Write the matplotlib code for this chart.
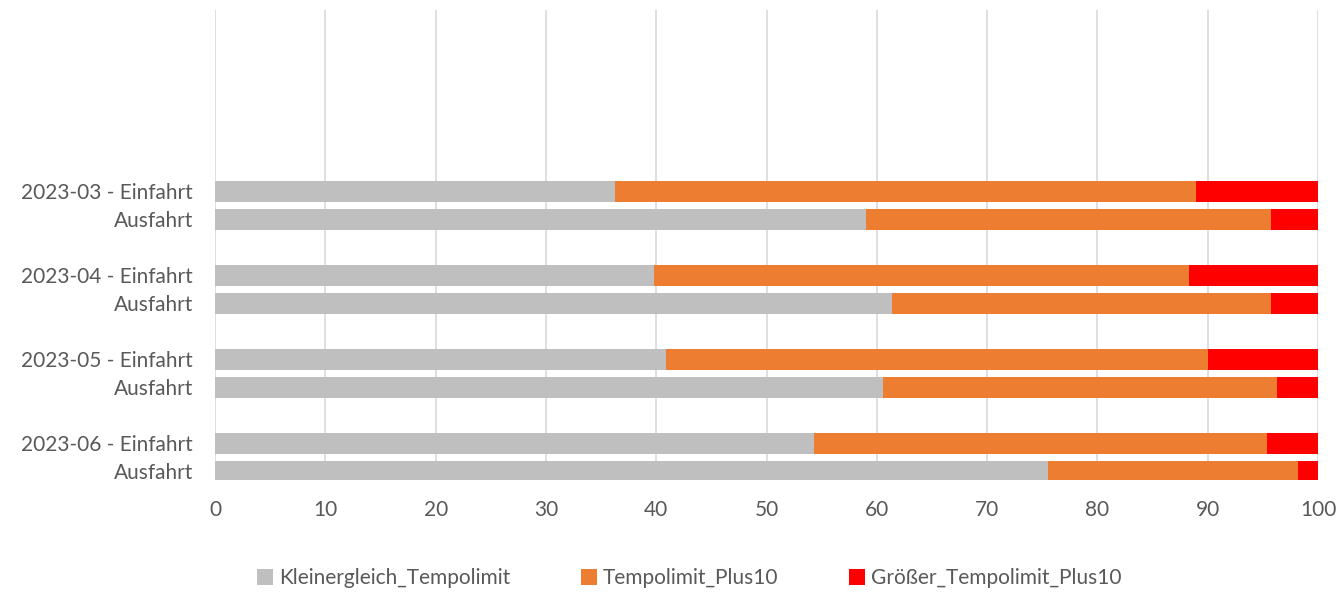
import numpy as np
import matplotlib.pyplot as plt

# stacked shares per row (percent), top to bottom
labels = ["2023-03 - Einfahrt", "Ausfahrt",
          "2023-04 - Einfahrt", "Ausfahrt",
          "2023-05 - Einfahrt", "Ausfahrt",
          "2023-06 - Einfahrt", "Ausfahrt"]
kleiner = [36.3, 59.0, 39.8, 61.4, 40.9, 60.6, 54.3, 75.5]
plus10 = [52.6, 36.7, 48.5, 34.3, 49.1, 35.7, 41.1, 22.7]
groesser = [11.1, 4.3, 11.7, 4.3, 10.0, 3.7, 4.6, 1.8]

series_names = ["Kleinergleich_Tempolimit", "Tempolimit_Plus10", "Größer_Tempolimit_Plus10"]
colors = ["#bfbfbf", "#ed7d31", "#ff0000"]

plt.rcParams["font.family"] = ["Lato", "DejaVu Sans"]

# two rows per month, one empty slot between months
ypos = np.array([3 * (i // 2) + (i % 2) for i in range(len(labels))])

fig = plt.figure(figsize=(13.44, 5.92), dpi=100)
ax = fig.add_axes([0.16, 0.189, 0.8207, 0.794])

left = np.zeros(len(labels))
for vals, name, c in zip([kleiner, plus10, groesser], series_names, colors):
    ax.barh(ypos, vals, left=left, height=0.75, color=c, label=name)
    left = left + np.array(vals)

ax.set_xlim(0, 100)
ax.set_ylim(10.32, -6.46)
ax.set_xticks(np.arange(0, 101, 10))
ax.set_yticks(ypos)
ax.set_yticklabels(labels)
ax.tick_params(axis="both", length=0, labelsize=15, labelcolor="#595959")
ax.tick_params(axis="x", pad=14)
ax.tick_params(axis="y", pad=16)
ax.grid(axis="x", color="#d9d9d9", lw=1.2)
ax.set_axisbelow(True)
for s in ax.spines.values():
    s.set_visible(False)

leg = ax.legend(loc="center", bbox_to_anchor=(0.43, -0.209), ncol=3, frameon=False,
                fontsize=15, handlelength=0.75, handleheight=0.75, handletextpad=0.3,
                columnspacing=3.4)
for t in leg.get_texts():
    t.set_color("#595959")

fig.savefig("out.png", dpi=100)
